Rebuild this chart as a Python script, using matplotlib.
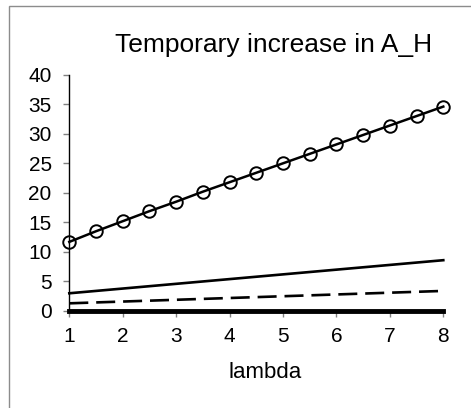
import matplotlib
matplotlib.use("Agg")
import matplotlib.pyplot as plt
from matplotlib.patches import Rectangle

plt.rcParams['font.family'] = ['Liberation Sans', 'DejaVu Sans']

# Data
lam_fine = [1, 1.5, 2, 2.5, 3, 3.5, 4, 4.5, 5, 5.5, 6, 6.5, 7, 7.5, 8]
circle_vals = [11.7, 13.5, 15.2, 16.9, 18.5, 20.2, 21.8, 23.4, 25.0, 26.6, 28.2, 29.8, 31.4, 33.0, 34.6]
lam = [1, 2, 3, 4, 5, 6, 7, 8]
solid_vals = [3.0, 3.8, 4.6, 5.4, 6.2, 7.0, 7.8, 8.6]
dashed_vals = [1.3, 1.6, 1.9, 2.2, 2.5, 2.8, 3.1, 3.4]
zero_vals = [0, 0, 0, 0, 0, 0, 0, 0]
x_ticks = [1, 2, 3, 4, 5, 6, 7, 8]
y_ticks = [0, 5, 10, 15, 20, 25, 30, 35, 40]
title = "Temporary increase in A_H"
xlabel = "lambda"

fig = plt.figure(figsize=(4.71, 4.08), dpi=100)
fig.patch.set_facecolor('white')
frame = Rectangle((8.5/471, -0.5), 2.0, 1.5 - 5.5/408, transform=fig.transFigure,
                  fill=False, edgecolor='#8c8c8c', linewidth=1.0)
fig.patches.append(frame)

ax = fig.add_axes([69.3/471, 1 - 311/408, (443.3-69.3)/471, (311-74.7)/408])
ax.plot(lam_fine, circle_vals, color='black', linewidth=1.8, marker='o', markersize=9,
        markerfacecolor='none', markeredgecolor='black', markeredgewidth=1.4, clip_on=False, zorder=5)
ax.plot(lam, solid_vals, color='black', linewidth=1.9, clip_on=False)
ax.plot(lam, dashed_vals, color='black', linewidth=1.9, dashes=(7.2, 3.0), clip_on=False)
ax.plot(lam, zero_vals, color='black', linewidth=3.5, clip_on=False, zorder=4)

ax.set_xlim(1, 8)
ax.set_ylim(0, 40)
ax.set_xticks(x_ticks)
ax.set_yticks(y_ticks)
for s in ['top', 'right']:
    ax.spines[s].set_visible(False)
ax.spines['left'].set_color('black')
ax.spines['bottom'].set_color('black')
ax.spines['left'].set_linewidth(1.0)
ax.tick_params(axis='both', colors='#808080', labelcolor='black', labelsize=15,
               length=4.2, width=1.0, direction='out')
ax.tick_params(axis='y', pad=8.5)
ax.tick_params(axis='x', pad=7.5)
ax.set_xlabel(xlabel, fontsize=16, labelpad=11)
ax.xaxis.label.set_x(0.523)

fig.text(274/471, 1 - 45/408, title, fontsize=19, ha='center', va='center')

fig.savefig("out.png", dpi=100)
